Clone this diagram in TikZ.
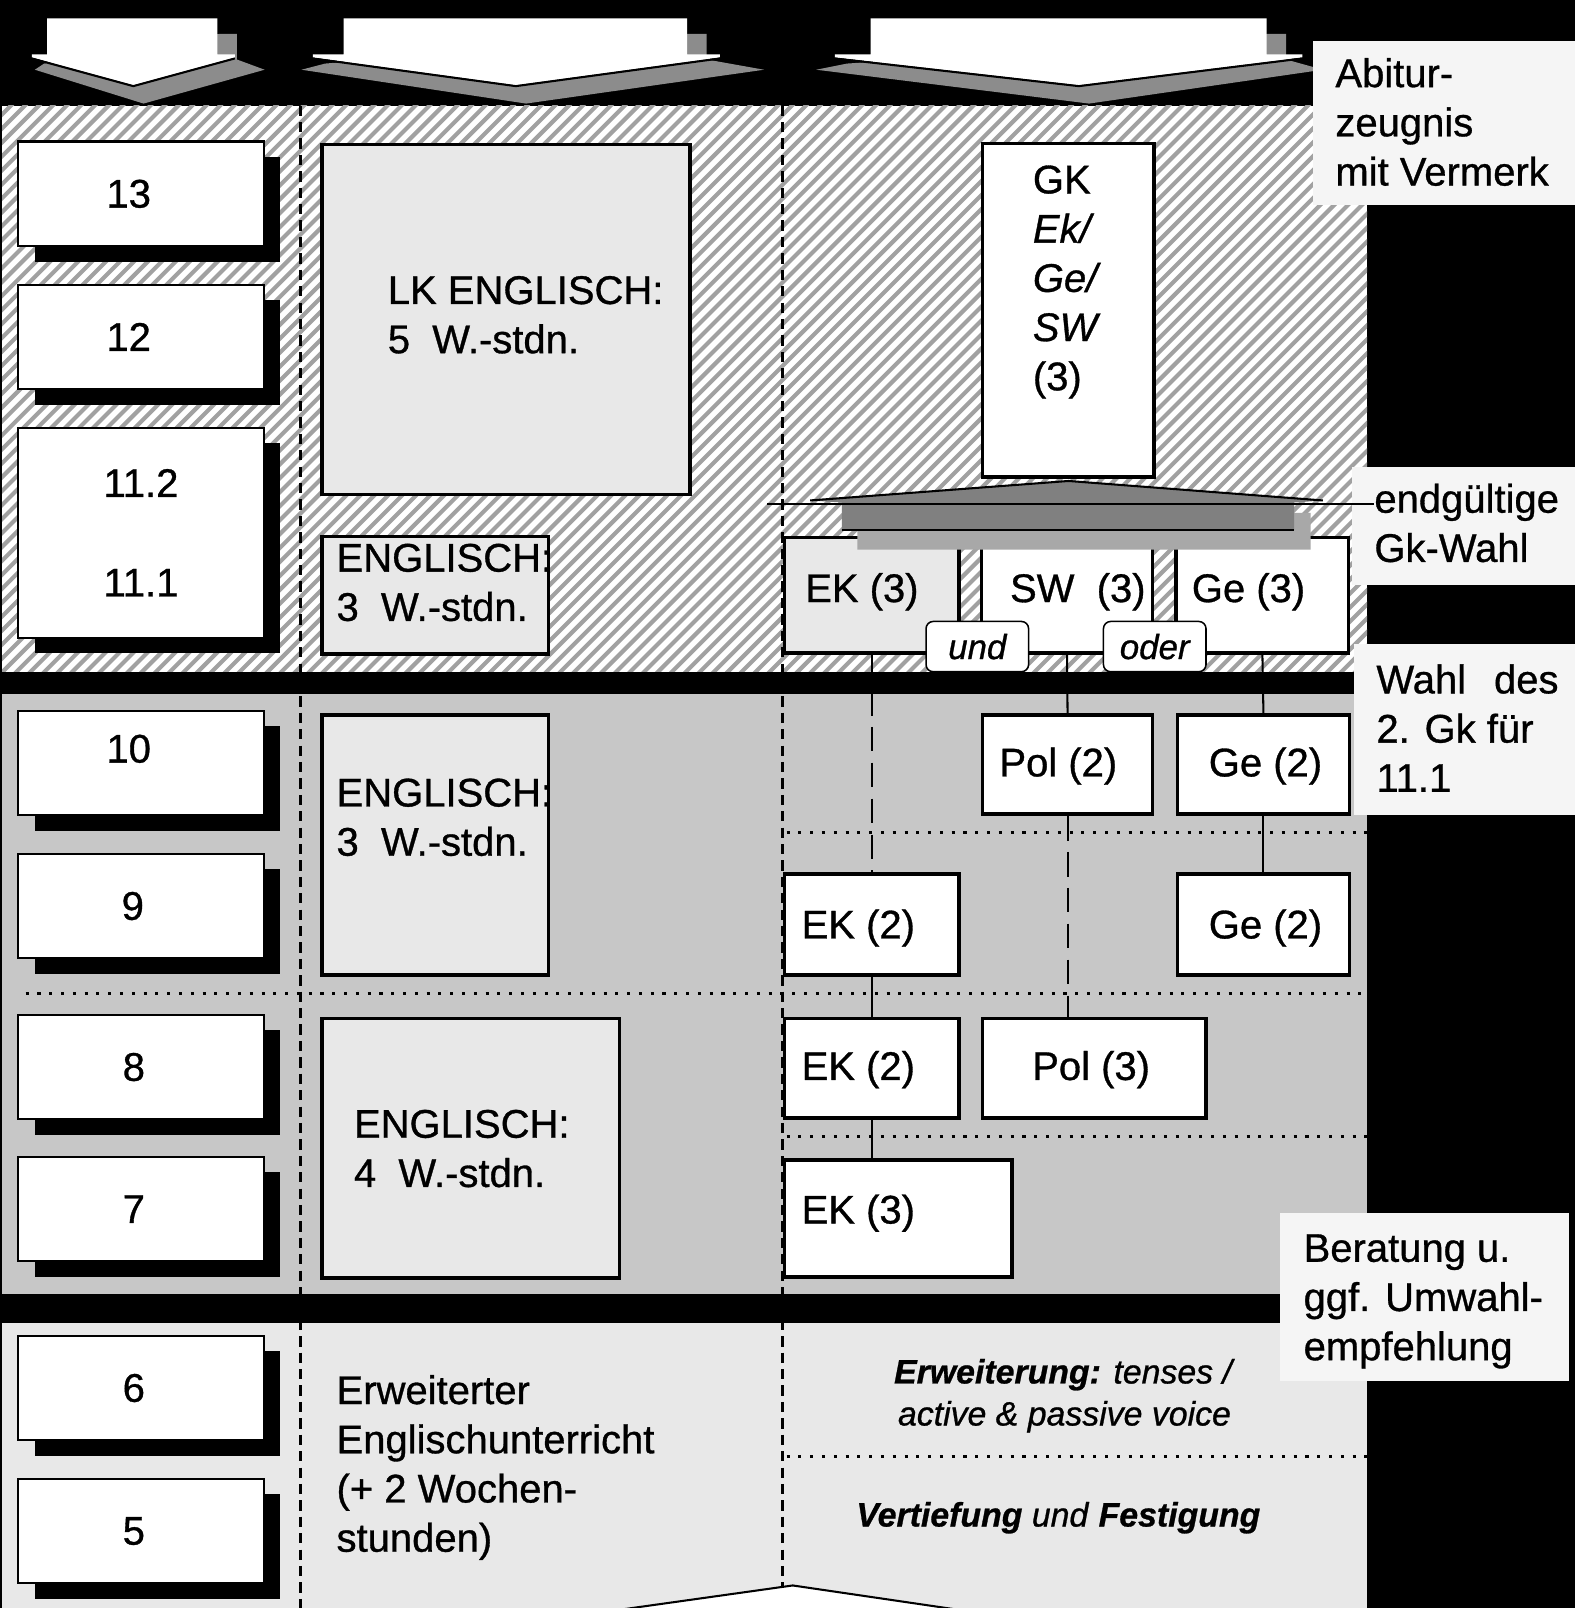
\documentclass[tikz,border=0pt]{standalone}
\usepackage{fontspec}
\setmainfont{Liberation Sans}[FakeBold=0.8]
\usetikzlibrary{shadows}
\definecolor{cHatch}{gray}{0.63}
\definecolor{cMid}{gray}{0.78}
\definecolor{cLight}{gray}{0.91}
\definecolor{cLabel}{gray}{0.96}
\definecolor{cShadowA}{gray}{0.55}
\definecolor{cDark}{gray}{0.5}
\definecolor{cShadowB}{gray}{0.66}
\newcommand\fA{\fontsize{39}{48}\selectfont}
\newcommand\fB{\fontsize{33}{41}\selectfont}
\newcommand\fC{\fontsize{34}{40}\selectfont}
\newcommand\lsh[1]{\hspace*{-#1pt}}
% #1 rect left, #2 rect right, #3 wing left, #4 wing right, #5 tip x, #6 shadow left, #7 shadow right
\newcommand{\TopArrow}[7]{%
  \fill[cShadowA] ({#2+2},33) -- ({#2+19},33) -- ({#2+19},58) -- (#7,68) -- ({#5+10},101) -- (#6,68) -- ({#3+12},62) -- cycle;
  \fill[white] (#1,18) -- (#2,18) -- (#2,53) -- (#4,53) -- (#4,56) -- (#5,83) -- (#3,56) -- (#3,53) -- (#1,53) -- cycle;
  \draw[black, line width=2pt] (#3,57) -- (#5,84) -- (#4,57);
}
\begin{document}
\begin{tikzpicture}[x=1pt, y=-1pt,
  yr/.style={draw=black, line width=2pt, fill=white, minimum width=239pt, minimum height=102pt, inner sep=0pt, font=\fA,
    drop shadow={shadow xshift=16pt, shadow yshift=-15pt, fill=black, opacity=1}},
  rbox/.style={draw=black, line width=3.5pt, fill=white, inner sep=0pt},
  gbox/.style={rbox, fill=cLight},
  lt/.style={inner sep=0pt, font=\fA},
  txt/.style={inner sep=0pt, font=\fA, align=left},
  lab/.style={fill=cLabel, inner sep=0pt},
  conn/.style={line width=2pt, black},
  ldash/.style={conn, dash pattern=on 24pt off 11pt},
  vdash/.style={line width=2pt, black, dash pattern=on 10pt off 6pt},
  dotl/.style={line width=2.5pt, black, dash pattern=on 3pt off 8.5pt},
  lop/.style={draw=black, line width=1.5pt, rounded corners=7pt, fill=white, minimum width=100pt, minimum height=49pt, inner sep=0pt, font=\fC\itshape}]
\useasboundingbox (0,0) rectangle (1536,1568);
\fill[black] (0,0) rectangle (1536,1568);
% hatched upper stage
\begin{scope}
  \clip (2,103) rectangle (1333,655);
  \fill[white] (2,103) rectangle (1333,655);
  \foreach \i in {-560,-546.4,...,1345} \draw[cHatch, line width=4pt] (\i,660) -- ++(560,-560);
\end{scope}
% middle and lower stage
\fill[cMid] (2,677) rectangle (1333,1262);
\fill[cLight] (2,1290) rectangle (1333,1568);
% top arrows
\TopArrow{46}{212}{31}{229}{130}{34}{258}
\TopArrow{335}{670}{305}{702}{503}{294}{745}
\TopArrow{849}{1235}{814}{1270}{1052}{796}{1290}
% column separators
\draw[vdash] (293,103) -- (293,1568);
\draw[vdash] (763,103) -- (763,1555);
% dotted separators
\draw[dotl] (25,969) -- (1333,969);
\draw[dotl] (767,812) -- (1333,812);
\draw[dotl] (767,1108) -- (1333,1108);
\draw[dotl] (767,1420) -- (1333,1420);
% year boxes
\node[yr] (y13) at (137.5,189) {\lsh{24}13};
\node[yr] (y12) at (137.5,328.5) {\lsh{24}12};
\node[yr, minimum height=205pt, align=center] (y11) at (137.5,519.5) {11.2\\[49pt]11.1};
\node[yr, text depth=28pt] (y10) at (137.5,744) {\lsh{24}10};
\node[yr] (y9) at (137.5,883.5) {\lsh{16}9};
\node[yr] (y8) at (137.5,1040.5) {\lsh{14}8};
\node[yr] (y7) at (137.5,1179) {\lsh{14}7};
\node[yr] (y6) at (137.5,1353.5) {\lsh{14}6};
\node[yr] (y5) at (137.5,1493) {\lsh{14}5};
% English boxes
\node[gbox, minimum width=359pt, minimum height=341pt] (lk) at (493.5,311.5) {};
\node[txt, anchor=west] (lkt) at (378,307) {LK ENGLISCH:\\5~~W.-stdn.};
\node[gbox, minimum width=221pt, minimum height=115pt] (en11) at (424.5,580.5) {};
\node[txt, anchor=west] (en11t) at (328,568) {ENGLISCH:\\3~~W.-stdn.};
\node[gbox, minimum width=221pt, minimum height=254pt] (en9) at (424.5,824) {};
\node[txt, anchor=west] (en9t) at (328,797) {ENGLISCH:\\3~~W.-stdn.};
\node[gbox, minimum width=290pt, minimum height=253pt] (en7) at (459,1119.5) {};
\node[txt, anchor=west] (en7t) at (345,1120) {ENGLISCH:\\4~~W.-stdn.};
\node[txt, anchor=west] (erw) at (328,1431) {Erweiterter\\Englischunterricht\\(+ 2 Wochen-\\stunden)};
% social science column
\node[rbox, minimum width=167pt, minimum height=325pt] (gk) at (1041.5,302.5) {};
\node[txt, anchor=west] (gkt) at (1007,275) {GK\\\textit{Ek/}\\\textit{Ge/}\\\textit{SW}\\(3)};
\node[gbox, minimum width=170pt, minimum height=113pt] (ek11) at (850,580.5) {};
\node[lt, anchor=west] (ek11t) at (785,577) {EK (3)};
\node[rbox, minimum width=167pt, minimum height=113pt] (sw11) at (1040.5,580.5) {};
\node[lt] (sw11t) at (1051,577) {SW~~(3)};
\node[rbox, minimum width=168pt, minimum height=113pt] (ge11) at (1231,580.5) {};
\node[lt, anchor=west] (ge11t) at (1162,577) {Ge (3)};
\node[rbox, minimum width=166pt, minimum height=97pt] (pol10) at (1041,745.5) {};
\node[lt] (pol10t) at (1032,747) {Pol (2)};
\node[rbox, minimum width=168pt, minimum height=97pt] (ge10) at (1232,745.5) {};
\node[lt] (ge10t) at (1234,747) {Ge (2)};
\node[rbox, minimum width=170pt, minimum height=99pt] (ek9) at (850,901.5) {};
\node[lt] (ek9t) at (837,905) {EK (2)};
\node[rbox, minimum width=168pt, minimum height=99pt] (ge9) at (1232,901.5) {};
\node[lt] (ge9t) at (1234,905) {Ge (2)};
\node[rbox, minimum width=170pt, minimum height=97pt] (ek8) at (850,1041.5) {};
\node[lt] (ek8t) at (837,1043) {EK (2)};
\node[rbox, minimum width=218pt, minimum height=97pt] (pol8) at (1067,1041.5) {};
\node[lt] (pol8t) at (1064,1043) {Pol (3)};
\node[rbox, minimum width=222pt, minimum height=114pt] (ek7) at (876,1188) {};
\node[lt] (ek7t) at (837,1183) {EK (3)};
% connectors
\draw[ldash] (ek11.south) -- (ek9.north);
\draw[conn] (sw11.south) -- (pol10.north);
\draw[ldash] (pol10.south) -- (pol10.south |- pol8.north);
\draw[conn] (ge11.south) -- (ge10.north);
\draw[conn] (ge10.south) -- (ge9.north);
\draw[conn] (ek9.south) -- (ek8.north);
\draw[conn] (ek8.south) -- (ek8.south |- ek7.north);
% und / oder
\node[lop] (und) at (953,630.5) {und};
\node[lop] (oder) at (1126,630.5) {oder};
% lower right texts
\node[inner sep=0pt, font=\fB, align=center] (erwr) at (1038,1361) {\textbf{\textit{Erweiterung:}} \textit{tenses /}\\\textit{active \& passive voice}};
\node[inner sep=0pt, font=\fB] (vert) at (1032,1480) {\textbf{\textit{Vertiefung}} \textit{und} \textbf{\textit{Festigung}}};
% upward arrow (final choice)
\fill[cShadowB] (1262,500) -- (1278,500) -- (1278,536) -- (836,536) -- (836,517) -- (1262,517) -- cycle;
\fill[cDark] (790,488) -- (1042,469) -- (1290,488) -- (1262,490) -- (1262,517) -- (821,517) -- (821,490) -- cycle;
\draw[line width=2pt] (790,488) -- (1042,469) -- (1290,488);
\draw[line width=2pt] (821,517) -- (1262,517);
% right side labels
\node[lab, minimum width=256pt, minimum height=160pt] (abi) at (1408,120) {};
\node[txt, anchor=west] (abit) at (1302,119) {Abitur-\\zeugnis\\mit Vermerk};
\node[lab, minimum width=218pt, minimum height=115pt] (egw) at (1427,512.5) {};
\node[txt, anchor=west] (egwt) at (1340,510) {endgültige\\Gk-Wahl};
\coordinate (arrL) at (748,491);
\draw[conn] (arrL) -- (arrL -| egwt.west);
\node[lab, minimum width=216pt, minimum height=167pt] (wahl) at (1428,711.5) {};
\node[txt, anchor=west] (wahlt) at (1342,710) {Wahl\hspace{0.7em}des\\2. Gk für\\11.1};
\node[lab, minimum width=282pt, minimum height=164pt] (ber) at (1389,1265) {};
\node[txt, anchor=west] (bert) at (1271,1269) {Beratung u.\\ggf. Umwahl-\\empfehlung};
% bottom chevron
\fill[white] (588,1572) -- (773,1546) -- (950,1572) -- cycle;
\draw[line width=2pt] (588,1572) -- (773,1546) -- (950,1572);
\end{tikzpicture}
\end{document}
